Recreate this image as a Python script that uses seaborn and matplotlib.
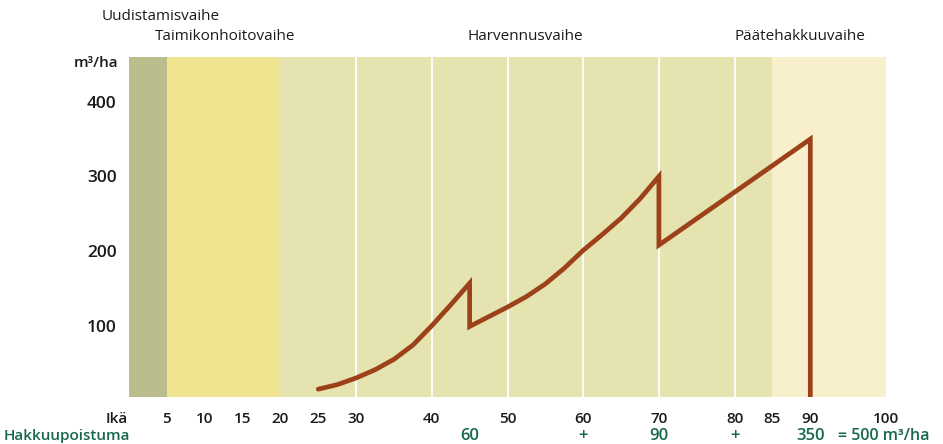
import matplotlib
matplotlib.use("Agg")
import matplotlib.pyplot as plt
import matplotlib.transforms as mtransforms
import seaborn as sns
import pandas as pd

# Data
ages = [25, 27.5, 30, 32.5, 35, 37.5, 40, 42.5, 45,
        45, 47.5, 50, 52.5, 55, 57.5, 60, 62.5, 65, 67.5, 70,
        70, 90, 90]
volume = [15, 21, 30, 41, 55, 74, 100, 128, 157,
          99, 112, 125, 139, 156, 177, 201, 222, 244, 270, 300,
          208, 350, 0]

phase_edges = [0, 5, 20, 85, 100]
phase_colors = ["#bbbc8b", "#efe590", "#e5e3b0", "#f8f0cc"]
grid_ages = [30, 40, 50, 60, 70, 80]

age_ticks = [5, 10, 15, 20, 25, 30, 40, 50, 60, 70, 80, 85, 90, 100]
vol_ticks = [100, 200, 300, 400]

harvest_ages = [45, 60, 70, 80, 90]
harvest_labels = ["60", "+", "90", "+", "350"]

phase_names = ["Uudistamisvaihe", "Taimikonhoitovaihe", "Harvennusvaihe", "Päätehakkuuvaihe"]

LINE = "#9c4119"
GREEN = "#17694a"
TXT = "#1a1a1a"

sns.set_style("white")
plt.rcParams["font.family"] = ["Open Sans", "DejaVu Sans"]

fig = plt.figure(figsize=(9.43, 4.44), dpi=100)
ax = fig.add_axes([129 / 943, 1 - 397 / 444, 757 / 943, 340 / 444])

# phase backgrounds
for i, c in enumerate(phase_colors):
    ax.axvspan(phase_edges[i], phase_edges[i + 1], color=c, lw=0, zorder=0)
for g in grid_ages:
    ax.axvline(g, color="white", lw=1.3, zorder=1)

df = pd.DataFrame({"age": ages, "volume": volume})
sns.lineplot(data=df, x="age", y="volume", sort=False, estimator=None,
             errorbar=None, color=LINE, lw=3.4, ax=ax, zorder=3)
ax.lines[-1].set_solid_joinstyle("miter")

ax.set_xlim(0, 100)
ax.set_ylim(4.5, 460)
ax.set_xlabel("")
ax.set_ylabel("")
for s in ax.spines.values():
    s.set_visible(False)

ax.set_xticks(age_ticks)
ax.set_xticklabels([str(a) for a in age_ticks], fontsize=11, fontweight="semibold", color=TXT)
ax.set_yticks(vol_ticks)
ax.set_yticklabels([str(v) for v in vol_ticks], fontsize=12.5, fontweight="semibold", color=TXT)
ax.tick_params(axis="x", length=0, pad=11)
ax.tick_params(axis="y", length=0, pad=9)

# labels outside the axes
bx = mtransforms.blended_transform_factory(ax.transData, fig.transFigure)
fy = lambda py: 1 - py / 444
fx = lambda px: px / 943

fig.text(fx(118), fy(63), "m³/ha", ha="right", va="center", fontsize=11,
         fontweight="semibold", color=TXT)
fig.text(fx(128), fy(419), "Ikä", ha="right", va="center", fontsize=11,
         fontweight="semibold", color=TXT)
fig.text(fx(4), fy(436), "Hakkuupoistuma", ha="left", va="center", fontsize=11,
         fontweight="semibold", color=GREEN)
for a, lab in zip(harvest_ages, harvest_labels):
    ax.text(a, fy(436), lab, transform=bx, ha="center", va="center", fontsize=12,
            fontweight="semibold", color=GREEN)
fig.text(fx(838), fy(436), "= 500 m³/ha", ha="left", va="center", fontsize=11.5,
         fontweight="semibold", color=GREEN)

# phase names
fig.text(fx(102), fy(17), phase_names[0], ha="left", va="center", fontsize=11, color=TXT)
fig.text(fx(155), fy(37), phase_names[1], ha="left", va="center", fontsize=11, color=TXT)
fig.text(fx(525), fy(37), phase_names[2], ha="center", va="center", fontsize=11, color=TXT)
fig.text(fx(800), fy(37), phase_names[3], ha="center", va="center", fontsize=11, color=TXT)

fig.savefig("out.png", dpi=100)
